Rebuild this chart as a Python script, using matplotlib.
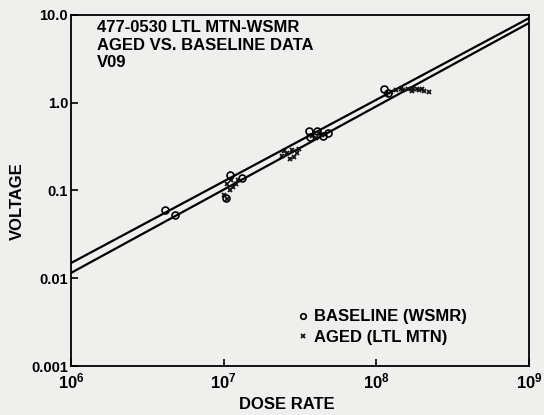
import numpy as np
import matplotlib.pyplot as plt

# baseline (WSMR) points - open circles
base_x = [4.1e6, 4.8e6, 1.1e7, 1.03e7, 1.32e7, 3.6e7, 4.1e7, 3.7e7, 4.5e7, 4.8e7, 1.12e8, 1.2e8]
base_y = [0.060, 0.053, 0.150, 0.082, 0.139, 0.48, 0.48, 0.41, 0.42, 0.45, 1.45, 1.30]

# aged (LTL MTN) points - small crosses
aged_x = [1.05e7, 1.1e7, 1.15e7, 1.2e7, 1.0e7, 1.05e7, 1.12e7, 1.25e7,
          2.4e7, 2.6e7, 2.8e7, 3.0e7, 2.7e7, 2.9e7, 3.1e7, 2.5e7,
          3.8e7, 4.2e7, 4.0e7, 4.4e7,
          1.15e8, 1.25e8, 1.35e8, 1.45e8, 1.6e8, 1.75e8, 1.9e8, 2.05e8, 2.2e8,
          1.5e8, 1.7e8, 1.85e8, 2.0e8]
aged_y = [0.12, 0.10, 0.11, 0.12, 0.09, 0.08, 0.13, 0.13,
          0.25, 0.27, 0.29, 0.27, 0.23, 0.24, 0.30, 0.28,
          0.42, 0.45, 0.40, 0.43,
          1.25, 1.32, 1.40, 1.45, 1.45, 1.42, 1.38, 1.35, 1.32,
          1.38, 1.35, 1.45, 1.42]

# fitted lines (end values)
fit_x = [1e6, 1e9]
fit_upper = [0.0149, 9.2]
fit_lower = [0.0115, 8.1]

ytick_vals = [0.001, 0.01, 0.1, 1.0, 10.0]
ytick_labels = ["0.001", "0.01", "0.1", "1.0", "10.0"]
xtick_vals = [1e6, 1e7, 1e8, 1e9]
xtick_labels = [r"$\mathbf{10^{6}}$", r"$\mathbf{10^{7}}$", r"$\mathbf{10^{8}}$", r"$\mathbf{10^{9}}$"]

plt.rcParams["font.family"] = ["Liberation Sans", "DejaVu Sans"]
plt.rcParams["font.weight"] = "bold"
plt.rcParams["mathtext.fontset"] = "custom"
plt.rcParams["mathtext.bf"] = "Liberation Sans:bold"

bg = "#efefed"
fig = plt.figure(figsize=(5.44, 4.15), dpi=100, facecolor=bg)
ax = fig.add_axes([0.1305, 0.118, 0.842, 0.846], facecolor=bg)

ax.plot(fit_x, fit_upper, color="black", lw=1.6)
ax.plot(fit_x, fit_lower, color="black", lw=1.6)

ax.plot(aged_x, aged_y, linestyle="none", marker="x", ms=3.5, mew=1.3, color="#111111",
        label="AGED (LTL MTN)")
ax.plot(base_x, base_y, linestyle="none", marker="o", ms=5, mfc="none", mec="black", mew=1.2,
        label="BASELINE (WSMR)")

ax.set_xscale("log")
ax.set_yscale("log")
ax.set_xlim(1e6, 1e9)
ax.set_ylim(0.001, 10)
ax.set_xticks(xtick_vals)
ax.set_xticklabels(xtick_labels, fontsize=12)
ax.set_yticks(ytick_vals)
ax.set_yticklabels(ytick_labels, fontsize=10.5, fontweight="bold")
ax.minorticks_off()
ax.tick_params(direction="in", length=5, width=1.2, pad=4)
ax.tick_params(axis="y", pad=2)
for s in ax.spines.values():
    s.set_linewidth(1.3)

ax.set_xlabel("DOSE RATE", fontsize=12, fontweight="bold")
ax.xaxis.set_label_coords(0.472, -0.088)
ax.set_ylabel("VOLTAGE", fontsize=12, fontweight="bold")
ax.yaxis.set_label_coords(-0.1, 0.47)

ax.text(0.057, 0.985, "477-0530 LTL MTN-WSMR\nAGED VS. BASELINE DATA\nV09",
        transform=ax.transAxes, ha="left", va="top", fontsize=12, fontweight="bold",
        linespacing=1.2)

h, l = ax.get_legend_handles_labels()
leg = ax.legend(h[::-1], l[::-1], loc="lower left", bbox_to_anchor=(0.48, 0.04), frameon=False,
                handlelength=0.6, handletextpad=0.4, labelspacing=0.35, borderaxespad=0,
                prop={"size": 12, "weight": "bold"}, markerscale=0.8)

fig.savefig("out.png", dpi=100, facecolor=bg)
